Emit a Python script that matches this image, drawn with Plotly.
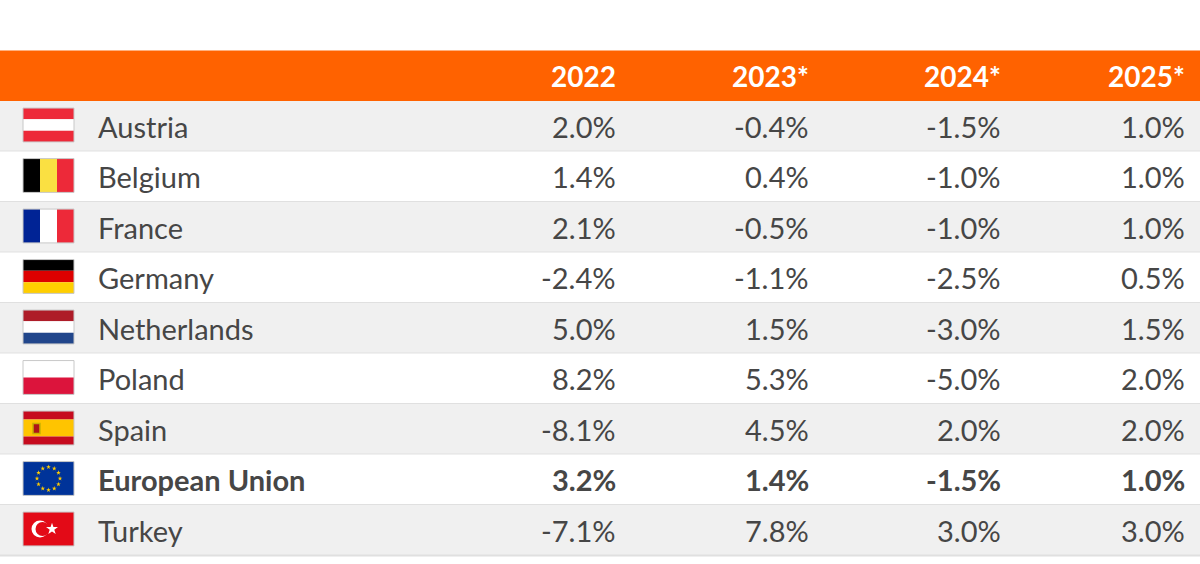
import numpy as np
import plotly.graph_objects as go

# table data
countries = ["Austria", "Belgium", "France", "Germany", "Netherlands",
             "Poland", "Spain", "European Union", "Turkey"]
years = ["2022", "2023*", "2024*", "2025*"]
v2022 = ["2.0%", "1.4%", "2.1%", "-2.4%", "5.0%", "8.2%", "-8.1%", "3.2%", "-7.1%"]
v2023 = ["-0.4%", "0.4%", "-0.5%", "-1.1%", "1.5%", "5.3%", "4.5%", "1.4%", "7.8%"]
v2024 = ["-1.5%", "-1.0%", "-1.0%", "-2.5%", "-3.0%", "-5.0%", "2.0%", "-1.5%", "3.0%"]
v2025 = ["1.0%", "1.0%", "1.0%", "0.5%", "1.5%", "2.0%", "2.0%", "1.0%", "3.0%"]
bold_rows = ["European Union"]

columns = [v2022, v2023, v2024, v2025]
col_x = [618, 811, 1003, 1187]

ORANGE = "#FF6200"
TEXT = "#464646"
FONT = "Lato"

# flag designs: (orientation, stripe colours)
flags = {
    "Austria": ("h", ["#ED2939", "#FFFFFF", "#ED2939"]),
    "Belgium": ("v", ["#000000", "#FAE042", "#ED2939"]),
    "France": ("v", ["#002395", "#FFFFFF", "#ED2939"]),
    "Germany": ("h", ["#000000", "#DD0000", "#FFCE00"]),
    "Netherlands": ("h", ["#AE1C28", "#FFFFFF", "#21468B"]),
    "Poland": ("h", ["#FFFFFF", "#DC143C"]),
    "Spain": ("h", ["#C60B1E", "#FFC400", "#FFC400", "#C60B1E"]),
    "European Union": ("h", ["#003399"]),
    "Turkey": ("h", ["#E30A17"]),
}

ROW_PX = 50.5
TOP_PX = 101
W, H = 1200, 564

def px_y(p):
    return (p - TOP_PX) / ROW_PX

fig = go.Figure()
shapes = []
annotations = []

# header band
shapes.append(dict(type="rect", x0=0, x1=W, y0=-1, y1=0,
                   fillcolor=ORANGE, line_width=0, layer="below"))
for yr, cx in zip(years, col_x):
    annotations.append(dict(x=cx, y=-0.5, text="<b>%s</b>" % yr, showarrow=False,
                            xanchor="right", yanchor="middle",
                            font=dict(family=FONT, size=28, color="white")))

fx0, fx1 = 23, 74
star_x, star_y = [], []
for i, name in enumerate(countries):
    fill = "#F0F0F0" if i % 2 == 0 else "#FFFFFF"
    shapes.append(dict(type="rect", x0=0, x1=W, y0=i, y1=i + 1,
                       fillcolor=fill, line_width=0, layer="below"))
    shapes.append(dict(type="line", x0=0, x1=W, y0=i + 1, y1=i + 1,
                       line=dict(color="#E0E0E0", width=2), layer="below"))

    # flag
    fy0, fy1 = i + 0.14, i + 0.81
    orient, cols = flags[name]
    n = len(cols)
    for k, c in enumerate(cols):
        if orient == "h":
            shapes.append(dict(type="rect", x0=fx0, x1=fx1,
                               y0=fy0 + (fy1 - fy0) * k / n, y1=fy0 + (fy1 - fy0) * (k + 1) / n,
                               fillcolor=c, line_width=0, layer="below"))
        else:
            shapes.append(dict(type="rect", x0=fx0 + (fx1 - fx0) * k / n,
                               x1=fx0 + (fx1 - fx0) * (k + 1) / n,
                               y0=fy0, y1=fy1, fillcolor=c, line_width=0, layer="below"))
    cy = (fy0 + fy1) / 2
    if name == "Spain":
        shapes.append(dict(type="rect", x0=33, x1=40, y0=cy - 0.09, y1=cy + 0.11,
                           fillcolor="#AD1519", line=dict(color="#C8B100", width=1.5),
                           layer="below"))
    if name == "European Union":
        for a in np.arange(12) * np.pi / 6:
            star_x.append(48.5 + 11.5 * np.cos(a))
            star_y.append(cy + 11.5 * np.sin(a) / ROW_PX)
    if name == "Turkey":
        r1, r2 = 8.5, 7
        shapes.append(dict(type="circle", x0=40 - r1, x1=40 + r1,
                           y0=cy - r1 / ROW_PX, y1=cy + r1 / ROW_PX,
                           fillcolor="white", line_width=0, layer="below"))
        shapes.append(dict(type="circle", x0=42.5 - r2, x1=42.5 + r2,
                           y0=cy - r2 / ROW_PX, y1=cy + r2 / ROW_PX,
                           fillcolor="#E30A17", line_width=0, layer="below"))
        fig.add_trace(go.Scatter(x=[52], y=[cy], mode="markers", hoverinfo="skip",
                                 marker=dict(symbol="star", size=9, color="white",
                                             line_width=0)))
    shapes.append(dict(type="rect", x0=fx0, x1=fx1, y0=fy0, y1=fy1,
                       fillcolor="rgba(0,0,0,0)", line=dict(color="#C8C8C8", width=1)))

    bold = name in bold_rows
    wrap = "<b>%s</b>" if bold else "%s"
    annotations.append(dict(x=96, y=i + 0.5, text=wrap % name, showarrow=False,
                            xanchor="left", yanchor="middle",
                            font=dict(family=FONT, size=29, color=TEXT)))
    for vals, cx in zip(columns, col_x):
        annotations.append(dict(x=cx, y=i + 0.5, text=wrap % vals[i], showarrow=False,
                                xanchor="right", yanchor="middle",
                                font=dict(family=FONT, size=29, color=TEXT)))

fig.add_trace(go.Scatter(x=star_x, y=star_y, mode="markers", hoverinfo="skip",
                         marker=dict(symbol="star", size=3.5, color="#FFCC00", line_width=0)))

fig.update_layout(
    width=W, height=H, margin=dict(l=0, r=0, t=0, b=0),
    paper_bgcolor="white", plot_bgcolor="white",
    showlegend=False, shapes=shapes, annotations=annotations,
    xaxis=dict(range=[0, W], visible=False, fixedrange=True),
    yaxis=dict(range=[px_y(H), px_y(0)], visible=False, fixedrange=True),
)
fig.write_html("out.html", config={"displayModeBar": False},
               post_script="document.body.style.margin='0';document.body.style.overflow='hidden';")
